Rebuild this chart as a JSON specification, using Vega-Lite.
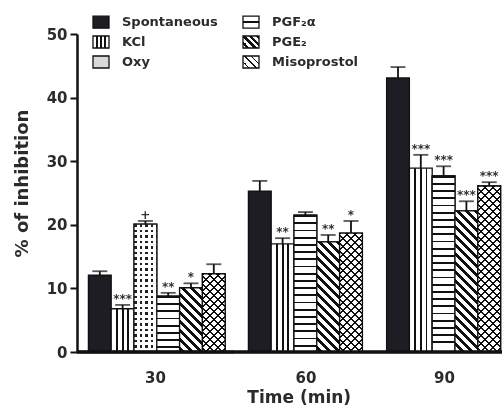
{
"$schema": "https://vega.github.io/schema/vega-lite/v6.json",
"padding": {"left": 13, "top": 13, "right": 0, "bottom": 0},
"config": {"view": {"stroke": null}, "font": "DejaVu Sans"},
"params": [
{"name": "thin", "value": [{"offset":0,"color":"#111"},{"offset":0.0104,"color":"#111"},{"offset":0.0104,"color":"#fff"},{"offset":0.0417,"color":"#fff"},
{"offset":0.0417,"color":"#111"},{"offset":0.0521,"color":"#111"},{"offset":0.0521,"color":"#fff"},{"offset":0.0833,"color":"#fff"},
{"offset":0.0833,"color":"#111"},{"offset":0.0938,"color":"#111"},{"offset":0.0938,"color":"#fff"},{"offset":0.125,"color":"#fff"},
{"offset":0.125,"color":"#111"},{"offset":0.1354,"color":"#111"},{"offset":0.1354,"color":"#fff"},{"offset":0.1667,"color":"#fff"},
{"offset":0.1667,"color":"#111"},{"offset":0.1771,"color":"#111"},{"offset":0.1771,"color":"#fff"},{"offset":0.2083,"color":"#fff"},
{"offset":0.2083,"color":"#111"},{"offset":0.2188,"color":"#111"},{"offset":0.2188,"color":"#fff"},{"offset":0.25,"color":"#fff"},
{"offset":0.25,"color":"#111"},{"offset":0.2604,"color":"#111"},{"offset":0.2604,"color":"#fff"},{"offset":0.2917,"color":"#fff"},
{"offset":0.2917,"color":"#111"},{"offset":0.3021,"color":"#111"},{"offset":0.3021,"color":"#fff"},{"offset":0.3333,"color":"#fff"},
{"offset":0.3333,"color":"#111"},{"offset":0.3438,"color":"#111"},{"offset":0.3438,"color":"#fff"},{"offset":0.375,"color":"#fff"},
{"offset":0.375,"color":"#111"},{"offset":0.3854,"color":"#111"},{"offset":0.3854,"color":"#fff"},{"offset":0.4167,"color":"#fff"},
{"offset":0.4167,"color":"#111"},{"offset":0.4271,"color":"#111"},{"offset":0.4271,"color":"#fff"},{"offset":0.4583,"color":"#fff"},
{"offset":0.4583,"color":"#111"},{"offset":0.4688,"color":"#111"},{"offset":0.4688,"color":"#fff"},{"offset":0.5,"color":"#fff"},
{"offset":0.5,"color":"#111"},{"offset":0.5104,"color":"#111"},{"offset":0.5104,"color":"#fff"},{"offset":0.5417,"color":"#fff"},
{"offset":0.5417,"color":"#111"},{"offset":0.5521,"color":"#111"},{"offset":0.5521,"color":"#fff"},{"offset":0.5833,"color":"#fff"},
{"offset":0.5833,"color":"#111"},{"offset":0.5938,"color":"#111"},{"offset":0.5938,"color":"#fff"},{"offset":0.625,"color":"#fff"},
{"offset":0.625,"color":"#111"},{"offset":0.6354,"color":"#111"},{"offset":0.6354,"color":"#fff"},{"offset":0.6667,"color":"#fff"},
{"offset":0.6667,"color":"#111"},{"offset":0.6771,"color":"#111"},{"offset":0.6771,"color":"#fff"},{"offset":0.7083,"color":"#fff"},
{"offset":0.7083,"color":"#111"},{"offset":0.7188,"color":"#111"},{"offset":0.7188,"color":"#fff"},{"offset":0.75,"color":"#fff"},
{"offset":0.75,"color":"#111"},{"offset":0.7604,"color":"#111"},{"offset":0.7604,"color":"#fff"},{"offset":0.7917,"color":"#fff"},
{"offset":0.7917,"color":"#111"},{"offset":0.8021,"color":"#111"},{"offset":0.8021,"color":"#fff"},{"offset":0.8333,"color":"#fff"},
{"offset":0.8333,"color":"#111"},{"offset":0.8438,"color":"#111"},{"offset":0.8438,"color":"#fff"},{"offset":0.875,"color":"#fff"},
{"offset":0.875,"color":"#111"},{"offset":0.8854,"color":"#111"},{"offset":0.8854,"color":"#fff"},{"offset":0.9167,"color":"#fff"},
{"offset":0.9167,"color":"#111"},{"offset":0.9271,"color":"#111"},{"offset":0.9271,"color":"#fff"},{"offset":0.9583,"color":"#fff"},
{"offset":0.9583,"color":"#111"},{"offset":0.9688,"color":"#111"},{"offset":0.9688,"color":"#fff"},{"offset":1,"color":"#fff"}]},
{"name": "thick", "value": [{"offset":0,"color":"#111"},{"offset":0.0208,"color":"#111"},{"offset":0.0208,"color":"#fff"},{"offset":0.0417,"color":"#fff"},
{"offset":0.0417,"color":"#111"},{"offset":0.0625,"color":"#111"},{"offset":0.0625,"color":"#fff"},{"offset":0.0833,"color":"#fff"},
{"offset":0.0833,"color":"#111"},{"offset":0.1042,"color":"#111"},{"offset":0.1042,"color":"#fff"},{"offset":0.125,"color":"#fff"},
{"offset":0.125,"color":"#111"},{"offset":0.1458,"color":"#111"},{"offset":0.1458,"color":"#fff"},{"offset":0.1667,"color":"#fff"},
{"offset":0.1667,"color":"#111"},{"offset":0.1875,"color":"#111"},{"offset":0.1875,"color":"#fff"},{"offset":0.2083,"color":"#fff"},
{"offset":0.2083,"color":"#111"},{"offset":0.2292,"color":"#111"},{"offset":0.2292,"color":"#fff"},{"offset":0.25,"color":"#fff"},
{"offset":0.25,"color":"#111"},{"offset":0.2708,"color":"#111"},{"offset":0.2708,"color":"#fff"},{"offset":0.2917,"color":"#fff"},
{"offset":0.2917,"color":"#111"},{"offset":0.3125,"color":"#111"},{"offset":0.3125,"color":"#fff"},{"offset":0.3333,"color":"#fff"},
{"offset":0.3333,"color":"#111"},{"offset":0.3542,"color":"#111"},{"offset":0.3542,"color":"#fff"},{"offset":0.375,"color":"#fff"},
{"offset":0.375,"color":"#111"},{"offset":0.3958,"color":"#111"},{"offset":0.3958,"color":"#fff"},{"offset":0.4167,"color":"#fff"},
{"offset":0.4167,"color":"#111"},{"offset":0.4375,"color":"#111"},{"offset":0.4375,"color":"#fff"},{"offset":0.4583,"color":"#fff"},
{"offset":0.4583,"color":"#111"},{"offset":0.4792,"color":"#111"},{"offset":0.4792,"color":"#fff"},{"offset":0.5,"color":"#fff"},
{"offset":0.5,"color":"#111"},{"offset":0.5208,"color":"#111"},{"offset":0.5208,"color":"#fff"},{"offset":0.5417,"color":"#fff"},
{"offset":0.5417,"color":"#111"},{"offset":0.5625,"color":"#111"},{"offset":0.5625,"color":"#fff"},{"offset":0.5833,"color":"#fff"},
{"offset":0.5833,"color":"#111"},{"offset":0.6042,"color":"#111"},{"offset":0.6042,"color":"#fff"},{"offset":0.625,"color":"#fff"},
{"offset":0.625,"color":"#111"},{"offset":0.6458,"color":"#111"},{"offset":0.6458,"color":"#fff"},{"offset":0.6667,"color":"#fff"},
{"offset":0.6667,"color":"#111"},{"offset":0.6875,"color":"#111"},{"offset":0.6875,"color":"#fff"},{"offset":0.7083,"color":"#fff"},
{"offset":0.7083,"color":"#111"},{"offset":0.7292,"color":"#111"},{"offset":0.7292,"color":"#fff"},{"offset":0.75,"color":"#fff"},
{"offset":0.75,"color":"#111"},{"offset":0.7708,"color":"#111"},{"offset":0.7708,"color":"#fff"},{"offset":0.7917,"color":"#fff"},
{"offset":0.7917,"color":"#111"},{"offset":0.8125,"color":"#111"},{"offset":0.8125,"color":"#fff"},{"offset":0.8333,"color":"#fff"},
{"offset":0.8333,"color":"#111"},{"offset":0.8542,"color":"#111"},{"offset":0.8542,"color":"#fff"},{"offset":0.875,"color":"#fff"},
{"offset":0.875,"color":"#111"},{"offset":0.8958,"color":"#111"},{"offset":0.8958,"color":"#fff"},{"offset":0.9167,"color":"#fff"},
{"offset":0.9167,"color":"#111"},{"offset":0.9375,"color":"#111"},{"offset":0.9375,"color":"#fff"},{"offset":0.9583,"color":"#fff"},
{"offset":0.9583,"color":"#111"},{"offset":0.9792,"color":"#111"},{"offset":0.9792,"color":"#fff"},{"offset":1,"color":"#fff"}]},
{"name": "kcl", "value": [{"offset":0,"color":"#fff"},{"offset":0.21,"color":"#fff"},{"offset":0.21,"color":"#111"},{"offset":0.29,"color":"#111"},{"offset":0.29,"color":"#fff"},{"offset":0.46,"color":"#fff"},{"offset":0.46,"color":"#111"},{"offset":0.54,"color":"#111"},{"offset":0.54,"color":"#fff"},{"offset":0.71,"color":"#fff"},{"offset":0.71,"color":"#111"},{"offset":0.79,"color":"#111"},{"offset":0.79,"color":"#fff"},{"offset":1,"color":"#fff"}]}
],
"datasets": {
"d30": [
{"time":"30","treatment":"Spontaneous","value":12.1,"hi":12.7,"sig":""},
{"time":"30","treatment":"KCl","value":6.8,"hi":7.4,"sig":"***"},
{"time":"30","treatment":"Oxy","value":20.1,"hi":20.6,"sig":"+"},
{"time":"30","treatment":"PGF₂α","value":8.8,"hi":9.3,"sig":"**"},
{"time":"30","treatment":"PGE₂","value":10.1,"hi":10.8,"sig":"*"},
{"time":"30","treatment":"Misoprostol","value":12.3,"hi":13.8,"sig":""}],
"d60": [
{"time":"60","treatment":"Spontaneous","value":25.3,"hi":26.9,"sig":""},
{"time":"60","treatment":"KCl","value":17.0,"hi":17.9,"sig":"**"},
{"time":"60","treatment":"PGF₂α","value":21.5,"hi":22.0,"sig":""},
{"time":"60","treatment":"PGE₂","value":17.3,"hi":18.4,"sig":"**"},
{"time":"60","treatment":"Misoprostol","value":18.7,"hi":20.6,"sig":"*"}],
"d90": [
{"time":"90","treatment":"Spontaneous","value":43.1,"hi":44.8,"sig":""},
{"time":"90","treatment":"KCl","value":28.9,"hi":31.0,"sig":"***"},
{"time":"90","treatment":"PGF₂α","value":27.7,"hi":29.2,"sig":"***"},
{"time":"90","treatment":"PGE₂","value":22.2,"hi":23.7,"sig":"***"},
{"time":"90","treatment":"Misoprostol","value":26.1,"hi":26.7,"sig":"***"}]
},
"title": {"text": "Time (min)", "orient": "bottom", "anchor": "middle", "font": "DejaVu Sans", "fontSize": 17, "fontWeight": "bold", "color": "#2b2b2b", "offset": 5, "dx": 41},
"spacing": 0,
"bounds": "flush",
"resolve": {"scale": {"x": "independent", "y": "independent", "fill": "shared"}},
"hconcat": [
{
 "data": {"name": "d30"},
 "width": 159.6, "height": 318,
 "layer": [
  {"mark": {"type": "bar", "stroke": "#111", "strokeWidth": 1.3},
   "encoding": {
     "x": {"field": "treatment", "type": "nominal", "sort": ["Spontaneous","KCl","Oxy","PGF₂α","PGE₂","Misoprostol"],
           "scale": {"paddingInner": 0, "paddingOuter": 0.5},
           "axis": {"labels": false, "ticks": false, "domain": false, "title": "30", "titleX": 78, "titleFont": "DejaVu Sans", "titleFontSize": 15, "titleFontWeight": "bold", "titleColor": "#2b2b2b", "titlePadding": 18}},
     "y": {"field": "value", "type": "quantitative", "stack": null, "scale": {"domain": [0, 50], "nice": false}, "title": "% of inhibition",
           "axis": {"values": [0,5,10,15,20,25,30,35,40,45,50], "labelExpr": "datum.value % 10 === 0 ? datum.label : ''",
                    "tickSize": {"condition": {"test": "datum.value % 10 === 0", "value": 7}, "value": 4},
                    "grid": false, "domainColor": "#111", "domainWidth": 2.5, "tickColor": "#111", "tickWidth": 2,
                    "labelFont": "DejaVu Sans", "labelFontSize": 15, "labelFontWeight": "bold", "labelColor": "#2b2b2b", "labelPadding": 3,
                    "titleFont": "DejaVu Sans", "titleFontSize": 18, "titleFontWeight": "bold", "titleColor": "#2b2b2b", "titlePadding": 15, "titleY": 149}},
     "fill": {"field": "treatment", "type": "nominal",
              "scale": {"domain": ["Spontaneous","KCl","Oxy","PGF₂α","PGE₂","Misoprostol"],
                        "range": ["#1d1d23",
                                  {"expr": "{gradient:'linear',x1:0,y1:0,x2:1,y2:0,stops:kcl}"},
                                  "#d9d9d9",
                                  {"expr": "{gradient:'linear',x1:0,y1:0,x2:0,y2:1,stops:[{offset:0,color:'#fff'},{offset:0.4,color:'#fff'},{offset:0.4,color:'#111'},{offset:0.6,color:'#111'},{offset:0.6,color:'#fff'},{offset:1,color:'#fff'}]}"},
                                  {"expr": "{gradient:'linear',x1:1,y1:0,x2:-5.72,y2:5.04,stops:thick}"},
                                  {"expr": "{gradient:'linear',x1:1,y1:0,x2:-5.72,y2:5.04,stops:thin}"}]},
              "legend": {"orient": "none", "legendX": 15, "legendY": -21, "columns": 2, "title": null,
                         "symbolType": "M-1,-0.75H1V0.75H-1Z", "symbolSize": 256, "symbolStrokeColor": "#111", "symbolStrokeWidth": 1.3,
                         "labelFont": "DejaVu Sans", "labelFontSize": 13, "labelFontWeight": "bold", "labelColor": "#2b2b2b",
                         "labelOffset": 12, "columnPadding": 22, "rowPadding": 2}}
   }},
  {"transform": [{"filter": {"field": "treatment", "oneOf": ["Oxy","PGF₂α","PGE₂","Misoprostol"]}}],
   "mark": {"type": "bar", "stroke": "#111", "strokeWidth": 1.3,
            "fill": {"expr": "datum.treatment === 'PGE₂' ? {gradient:'linear',x1:1,y1:0,x2:1-216*22.8/(519.84+pow(datum.value*6.36,2)),y2:216*datum.value*6.36/(519.84+pow(datum.value*6.36,2)),stops:thick} : datum.treatment === 'Misoprostol' ? {gradient:'linear',x1:1,y1:0,x2:1-192*22.8/(519.84+pow(datum.value*6.36,2)),y2:192*datum.value*6.36/(519.84+pow(datum.value*6.36,2)),stops:thin} : datum.treatment === 'Oxy' ? {gradient:'linear',x1:0,y1:0,x2:0,y2:132/(datum.value*6.36),stops:thick} : {gradient:'linear',x1:0,y1:0,x2:0,y2:172.8/(datum.value*6.36),stops:thin}"}},
   "encoding": {"x": {"field": "treatment", "type": "nominal", "sort": ["Spontaneous","KCl","Oxy","PGF₂α","PGE₂","Misoprostol"]},
                "y": {"field": "value", "type": "quantitative", "stack": null, "title": "% of inhibition"}}},
  {"transform": [{"filter": {"field": "treatment", "equal": "Misoprostol"}}],
   "mark": {"type": "bar", "strokeWidth": 0, "blend": "multiply",
            "fill": {"expr": "{gradient:'linear',x1:0,y1:0,x2:192*22.8/(519.84+pow(datum.value*6.36,2)),y2:192*datum.value*6.36/(519.84+pow(datum.value*6.36,2)),stops:thin}"}},
   "encoding": {"x": {"field": "treatment", "type": "nominal", "sort": ["Spontaneous","KCl","Oxy","PGF₂α","PGE₂","Misoprostol"]},
                "y": {"field": "value", "type": "quantitative", "stack": null, "title": "% of inhibition"}}},
  {"transform": [{"filter": {"field": "treatment", "equal": "Oxy"}}],
   "mark": {"type": "bar", "stroke": "#111", "strokeWidth": 1.3, "blend": "screen",
            "fill": {"expr": "{gradient:'linear',x1:0,y1:0,x2:5.79,y2:0,stops:thick}"}},
   "encoding": {"x": {"field": "treatment", "type": "nominal", "sort": ["Spontaneous","KCl","Oxy","PGF₂α","PGE₂","Misoprostol"]},
                "y": {"field": "value", "type": "quantitative", "stack": null, "title": "% of inhibition"}}},
  {"mark": {"type": "rule", "color": "#111", "strokeWidth": 1.8},
   "encoding": {"x": {"field": "treatment", "type": "nominal", "sort": ["Spontaneous","KCl","Oxy","PGF₂α","PGE₂","Misoprostol"]},
                "y": {"field": "value", "type": "quantitative", "title": "% of inhibition"}, "y2": {"field": "hi"}}},
  {"mark": {"type": "tick", "color": "#111", "size": 15, "thickness": 1.8},
   "encoding": {"x": {"field": "treatment", "type": "nominal", "sort": ["Spontaneous","KCl","Oxy","PGF₂α","PGE₂","Misoprostol"]},
                "y": {"field": "hi", "type": "quantitative", "title": "% of inhibition"}}},
  {"mark": {"type": "text", "dy": -2, "baseline": "alphabetic", "fontSize": 12, "fontWeight": "bold", "color": "#333"},
   "encoding": {"x": {"field": "treatment", "type": "nominal", "sort": ["Spontaneous","KCl","Oxy","PGF₂α","PGE₂","Misoprostol"]},
                "y": {"field": "hi", "type": "quantitative", "title": "% of inhibition"}, "text": {"field": "sig"}}},
  {"mark": {"type": "rule", "color": "#111", "strokeWidth": 2.6},
   "encoding": {"y": {"datum": 0, "type": "quantitative"}}}
 ]
},
{
 "data": {"name": "d60"},
 "width": 136.8, "height": 318,
 "layer": [
  {"mark": {"type": "bar", "stroke": "#111", "strokeWidth": 1.3},
   "encoding": {
     "x": {"field": "treatment", "type": "nominal", "sort": ["Spontaneous","KCl","PGF₂α","PGE₂","Misoprostol"],
           "scale": {"paddingInner": 0, "paddingOuter": 0.5},
           "axis": {"labels": false, "ticks": false, "domain": false, "title": "60", "titleFont": "DejaVu Sans", "titleFontSize": 15, "titleFontWeight": "bold", "titleColor": "#2b2b2b", "titlePadding": 18}},
     "y": {"field": "value", "type": "quantitative", "stack": null, "scale": {"domain": [0, 50], "nice": false}, "axis": null},
     "fill": {"field": "treatment", "type": "nominal"}
   }},
  {"transform": [{"filter": {"field": "treatment", "oneOf": ["PGF₂α","PGE₂","Misoprostol"]}}],
   "mark": {"type": "bar", "stroke": "#111", "strokeWidth": 1.3,
            "fill": {"expr": "datum.treatment === 'PGE₂' ? {gradient:'linear',x1:1,y1:0,x2:1-216*22.8/(519.84+pow(datum.value*6.36,2)),y2:216*datum.value*6.36/(519.84+pow(datum.value*6.36,2)),stops:thick} : datum.treatment === 'Misoprostol' ? {gradient:'linear',x1:1,y1:0,x2:1-192*22.8/(519.84+pow(datum.value*6.36,2)),y2:192*datum.value*6.36/(519.84+pow(datum.value*6.36,2)),stops:thin} : {gradient:'linear',x1:0,y1:0,x2:0,y2:172.8/(datum.value*6.36),stops:thin}"}},
   "encoding": {"x": {"field": "treatment", "type": "nominal", "sort": ["Spontaneous","KCl","PGF₂α","PGE₂","Misoprostol"]},
                "y": {"field": "value", "type": "quantitative", "stack": null}}},
  {"transform": [{"filter": {"field": "treatment", "equal": "Misoprostol"}}],
   "mark": {"type": "bar", "strokeWidth": 0, "blend": "multiply",
            "fill": {"expr": "{gradient:'linear',x1:0,y1:0,x2:192*22.8/(519.84+pow(datum.value*6.36,2)),y2:192*datum.value*6.36/(519.84+pow(datum.value*6.36,2)),stops:thin}"}},
   "encoding": {"x": {"field": "treatment", "type": "nominal", "sort": ["Spontaneous","KCl","PGF₂α","PGE₂","Misoprostol"]},
                "y": {"field": "value", "type": "quantitative", "stack": null}}},
  {"mark": {"type": "rule", "color": "#111", "strokeWidth": 1.8},
   "encoding": {"x": {"field": "treatment", "type": "nominal", "sort": ["Spontaneous","KCl","PGF₂α","PGE₂","Misoprostol"]},
                "y": {"field": "value", "type": "quantitative"}, "y2": {"field": "hi"}}},
  {"mark": {"type": "tick", "color": "#111", "size": 15, "thickness": 1.8},
   "encoding": {"x": {"field": "treatment", "type": "nominal", "sort": ["Spontaneous","KCl","PGF₂α","PGE₂","Misoprostol"]},
                "y": {"field": "hi", "type": "quantitative"}}},
  {"mark": {"type": "text", "dy": -2, "baseline": "alphabetic", "fontSize": 12, "fontWeight": "bold", "color": "#333"},
   "encoding": {"x": {"field": "treatment", "type": "nominal", "sort": ["Spontaneous","KCl","PGF₂α","PGE₂","Misoprostol"]},
                "y": {"field": "hi", "type": "quantitative"}, "text": {"field": "sig"}}},
  {"mark": {"type": "rule", "color": "#111", "strokeWidth": 2.6},
   "encoding": {"y": {"datum": 0, "type": "quantitative"}}}
 ]
},
{
 "data": {"name": "d90"},
 "width": 128, "height": 318,
 "layer": [
  {"mark": {"type": "bar", "stroke": "#111", "strokeWidth": 1.3},
   "encoding": {
     "x": {"field": "treatment", "type": "nominal", "sort": ["Spontaneous","KCl","PGF₂α","PGE₂","Misoprostol"],
           "scale": {"paddingInner": 0, "paddingOuter": 0.307, "align": 0.9},
           "axis": {"labels": false, "ticks": false, "domain": false, "title": "90", "titleX": 70, "titleFont": "DejaVu Sans", "titleFontSize": 15, "titleFontWeight": "bold", "titleColor": "#2b2b2b", "titlePadding": 18}},
     "y": {"field": "value", "type": "quantitative", "stack": null, "scale": {"domain": [0, 50], "nice": false}, "axis": null},
     "fill": {"field": "treatment", "type": "nominal"}
   }},
  {"transform": [{"filter": {"field": "treatment", "oneOf": ["PGF₂α","PGE₂","Misoprostol"]}}],
   "mark": {"type": "bar", "stroke": "#111", "strokeWidth": 1.3,
            "fill": {"expr": "datum.treatment === 'PGE₂' ? {gradient:'linear',x1:1,y1:0,x2:1-216*22.8/(519.84+pow(datum.value*6.36,2)),y2:216*datum.value*6.36/(519.84+pow(datum.value*6.36,2)),stops:thick} : datum.treatment === 'Misoprostol' ? {gradient:'linear',x1:1,y1:0,x2:1-192*22.8/(519.84+pow(datum.value*6.36,2)),y2:192*datum.value*6.36/(519.84+pow(datum.value*6.36,2)),stops:thin} : {gradient:'linear',x1:0,y1:0,x2:0,y2:172.8/(datum.value*6.36),stops:thin}"}},
   "encoding": {"x": {"field": "treatment", "type": "nominal", "sort": ["Spontaneous","KCl","PGF₂α","PGE₂","Misoprostol"]},
                "y": {"field": "value", "type": "quantitative", "stack": null}}},
  {"transform": [{"filter": {"field": "treatment", "equal": "Misoprostol"}}],
   "mark": {"type": "bar", "strokeWidth": 0, "blend": "multiply",
            "fill": {"expr": "{gradient:'linear',x1:0,y1:0,x2:192*22.8/(519.84+pow(datum.value*6.36,2)),y2:192*datum.value*6.36/(519.84+pow(datum.value*6.36,2)),stops:thin}"}},
   "encoding": {"x": {"field": "treatment", "type": "nominal", "sort": ["Spontaneous","KCl","PGF₂α","PGE₂","Misoprostol"]},
                "y": {"field": "value", "type": "quantitative", "stack": null}}},
  {"mark": {"type": "rule", "color": "#111", "strokeWidth": 1.8},
   "encoding": {"x": {"field": "treatment", "type": "nominal", "sort": ["Spontaneous","KCl","PGF₂α","PGE₂","Misoprostol"]},
                "y": {"field": "value", "type": "quantitative"}, "y2": {"field": "hi"}}},
  {"mark": {"type": "tick", "color": "#111", "size": 15, "thickness": 1.8},
   "encoding": {"x": {"field": "treatment", "type": "nominal", "sort": ["Spontaneous","KCl","PGF₂α","PGE₂","Misoprostol"]},
                "y": {"field": "hi", "type": "quantitative"}}},
  {"mark": {"type": "text", "dy": -2, "baseline": "alphabetic", "fontSize": 12, "fontWeight": "bold", "color": "#333"},
   "encoding": {"x": {"field": "treatment", "type": "nominal", "sort": ["Spontaneous","KCl","PGF₂α","PGE₂","Misoprostol"]},
                "y": {"field": "hi", "type": "quantitative"}, "text": {"field": "sig"}}},
  {"mark": {"type": "rule", "color": "#111", "strokeWidth": 2.6},
   "encoding": {"y": {"datum": 0, "type": "quantitative"}}}
 ]
}
]
}
